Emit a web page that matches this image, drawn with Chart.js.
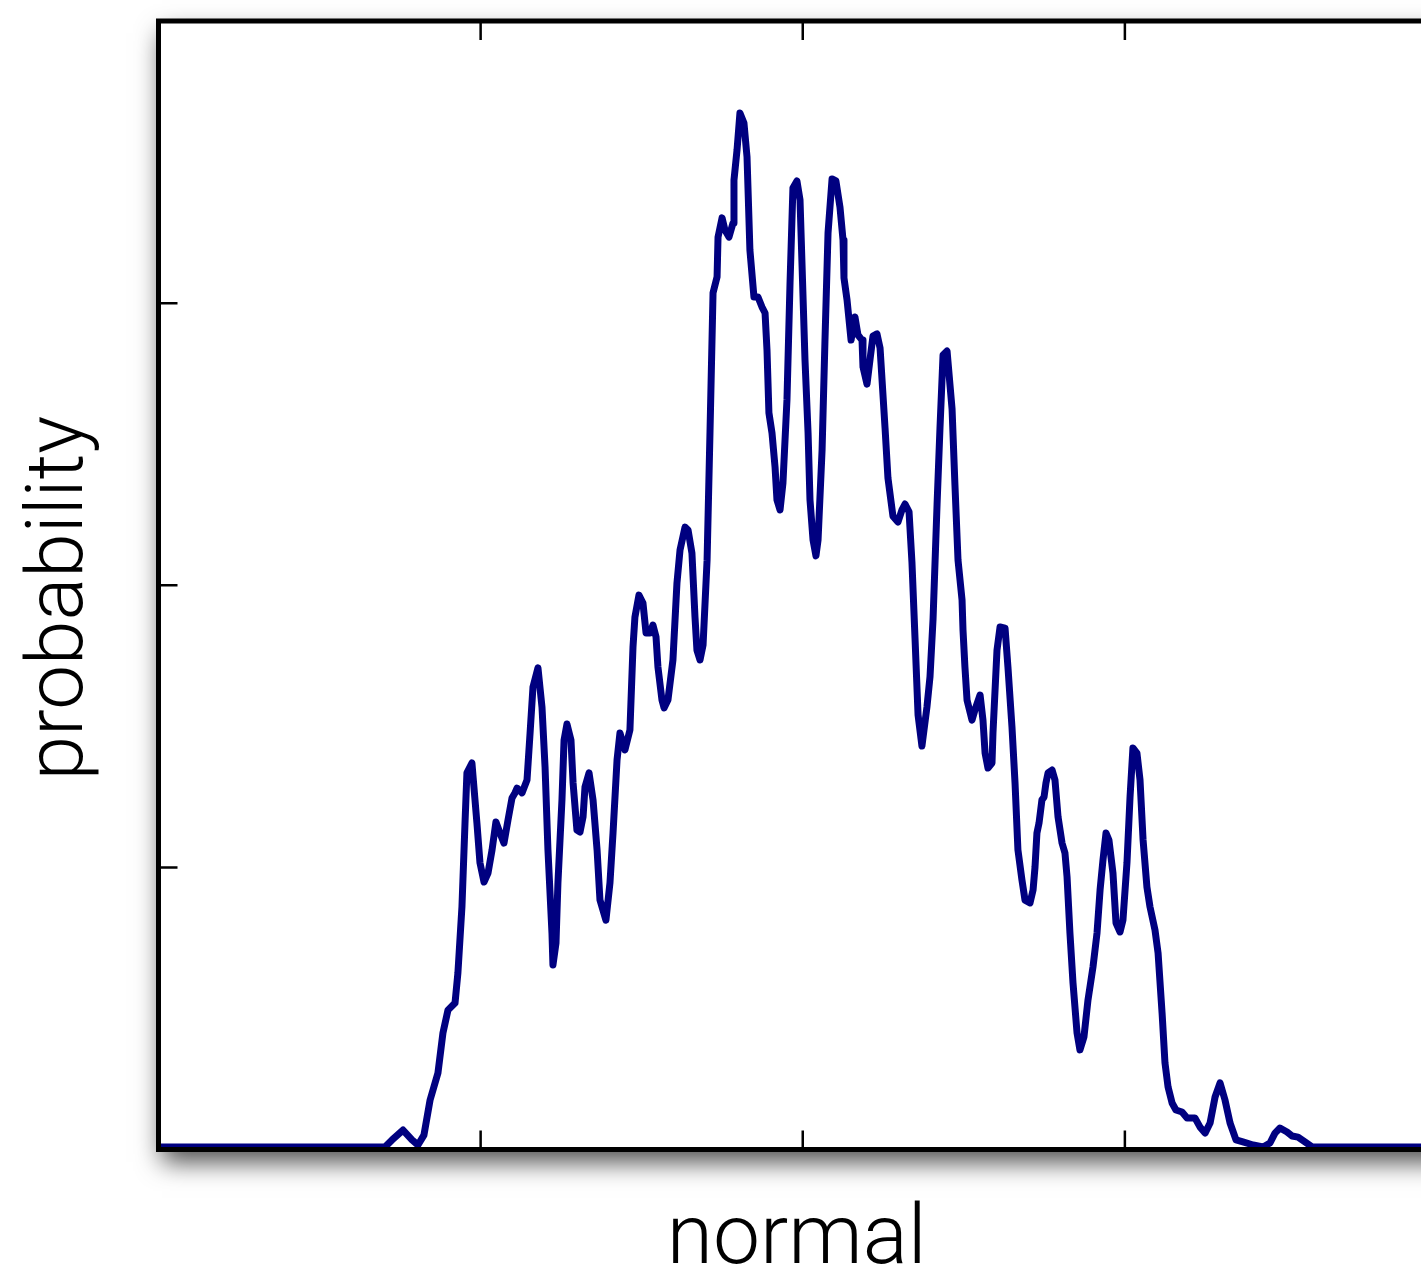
<!DOCTYPE html>
<html>
<head>
<meta charset="utf-8">
<script src="https://cdn.jsdelivr.net/npm/chart.js@4.4.1/dist/chart.umd.min.js"></script>
<style>
  html, body { margin: 0; padding: 0; background: #fff; overflow: hidden; }
  #wrap { position: relative; width: 1460px; height: 1271px; }
</style>
</head>
<body>
<div id="wrap"><canvas id="c" width="1460" height="1271"></canvas></div>
<script>
// valeurs (densité estimée)
const xs = [-4.0, -2.594, -2.550, -2.482, -2.426, -2.389, -2.352, -2.314, -2.265, -2.234,
  -2.203, -2.159, -2.141, -2.116, -2.097, -2.085, -2.054, -2.023, -2.004, -1.979,
  -1.954, -1.929, -1.905, -1.880, -1.855, -1.830, -1.805, -1.787, -1.774, -1.743,
  -1.712, -1.693, -1.675, -1.644, -1.619, -1.600, -1.582, -1.557, -1.551, -1.532,
  -1.520, -1.495, -1.482, -1.464, -1.439, -1.426, -1.402, -1.383, -1.364, -1.352,
  -1.327, -1.302, -1.277, -1.259, -1.222, -1.197, -1.178, -1.153, -1.135, -1.104,
  -1.073, -1.054, -1.042, -1.017, -0.992, -0.973, -0.948, -0.930, -0.911, -0.899,
  -0.874, -0.861, -0.837, -0.806, -0.781, -0.762, -0.731, -0.712, -0.688, -0.669,
  -0.657, -0.638, -0.619, -0.594, -0.576, -0.557, -0.532, -0.526, -0.501, -0.483,
  -0.458, -0.433, -0.427, -0.408, -0.390, -0.365, -0.346, -0.328, -0.303, -0.278,
  -0.253, -0.234, -0.222, -0.210, -0.191, -0.172, -0.160, -0.141, -0.123, -0.098,
  -0.079, -0.061, -0.036, -0.017, 0.014, 0.033, 0.045, 0.064, 0.082, 0.095,
  0.120, 0.138, 0.157, 0.182, 0.206, 0.231, 0.250, 0.256, 0.275, 0.300,
  0.324, 0.343, 0.368, 0.374, 0.399, 0.418, 0.436, 0.461, 0.480, 0.511,
  0.529, 0.560, 0.591, 0.616, 0.635, 0.660, 0.678, 0.697, 0.716, 0.740,
  0.771, 0.790, 0.809, 0.834, 0.852, 0.871, 0.896, 0.927, 0.945, 0.964,
  0.989, 0.995, 1.007, 1.020, 1.051, 1.069, 1.101, 1.119, 1.132, 1.150,
  1.175, 1.181, 1.206, 1.225, 1.256, 1.274, 1.299, 1.318, 1.336, 1.361,
  1.380, 1.411, 1.430, 1.442, 1.454, 1.467, 1.485, 1.498, 1.510, 1.523,
  1.548, 1.566, 1.585, 1.610, 1.628, 1.641, 1.659, 1.678, 1.703, 1.721,
  1.746, 1.771, 1.802, 1.827, 1.846, 1.864, 1.883, 1.901, 1.926, 1.945,
  1.970, 1.988, 2.013, 2.032, 2.050, 2.075, 2.094, 2.113, 2.137, 2.156,
  2.187, 2.206, 2.231, 2.249, 2.268, 2.293, 2.317, 2.355, 2.386, 2.435,
  2.466, 2.498, 2.529, 2.560, 2.591, 2.622, 2.653, 2.690, 2.733, 2.796,
  2.858, 2.901, 2.932, 2.963, 3.007, 3.038, 3.075, 3.118, 3.162, 4.0];

const ps = [0.0009, 0.0009, 0.0034, 0.0069, 0.0034, 0.0016, 0.0051, 0.0175, 0.0271, 0.0413,
  0.0494, 0.0519, 0.0626, 0.0860, 0.1157, 0.1335, 0.1370, 0.1157, 0.1016, 0.0948,
  0.0980, 0.1062, 0.1161, 0.1122, 0.1086, 0.1168, 0.1246, 0.1264, 0.1281, 0.1264,
  0.1310, 0.1476, 0.1639, 0.1707, 0.1568, 0.1356, 0.1062, 0.0767, 0.0654, 0.0732,
  0.0945, 0.1239, 0.1451, 0.1508, 0.1451, 0.1299, 0.1132, 0.1125, 0.1179, 0.1285,
  0.1335, 0.1239, 0.1062, 0.0884, 0.0813, 0.0945, 0.1122, 0.1381, 0.1476, 0.1416,
  0.1487, 0.1781, 0.1887, 0.1965, 0.1937, 0.1831, 0.1831, 0.1859, 0.1817, 0.1710,
  0.1593, 0.1565, 0.1593, 0.1735, 0.2008, 0.2125, 0.2206, 0.2196, 0.2114, 0.1887,
  0.1770, 0.1735, 0.1788, 0.2089, 0.2540, 0.3036, 0.3093, 0.3234, 0.3302, 0.3259,
  0.3234, 0.3284, 0.3436, 0.3543, 0.3674, 0.3638, 0.3518, 0.3188, 0.3022, 0.3022,
  0.2986, 0.2965, 0.2834, 0.2611, 0.2540, 0.2419, 0.2302, 0.2267, 0.2362, 0.2657,
  0.3071, 0.3408, 0.3433, 0.3366, 0.2798, 0.2540, 0.2302, 0.2160, 0.2104, 0.2160,
  0.2479, 0.2869, 0.3249, 0.3440, 0.3433, 0.3341, 0.3224, 0.3089, 0.3011, 0.2869,
  0.2951, 0.2887, 0.2869, 0.2774, 0.2713, 0.2802, 0.2883, 0.2891, 0.2841, 0.2557,
  0.2380, 0.2245, 0.2224, 0.2267, 0.2288, 0.2260, 0.2082, 0.1813, 0.1540, 0.1430,
  0.1568, 0.1675, 0.1880, 0.2288, 0.2557, 0.2816, 0.2830, 0.2625, 0.2355, 0.2089,
  0.1948, 0.1841, 0.1710, 0.1593, 0.1522, 0.1558, 0.1611, 0.1522, 0.1405, 0.1352,
  0.1370, 0.1476, 0.1770, 0.1852, 0.1848, 0.1710, 0.1498, 0.1299, 0.1062, 0.0955,
  0.0884, 0.0874, 0.0920, 0.1001, 0.1122, 0.1157, 0.1239, 0.1249, 0.1299, 0.1335,
  0.1345, 0.1310, 0.1179, 0.1086, 0.1051, 0.0966, 0.0767, 0.0590, 0.0413, 0.0353,
  0.0399, 0.0530, 0.0647, 0.0767, 0.0920, 0.1026, 0.1122, 0.1097, 0.0980, 0.0803,
  0.0771, 0.0813, 0.1016, 0.1249, 0.1423, 0.1405, 0.1310, 0.1097, 0.0930, 0.0860,
  0.0778, 0.0697, 0.0484, 0.0307, 0.0222, 0.0165, 0.0140, 0.0133, 0.0112, 0.0112,
  0.0080, 0.0058, 0.0094, 0.0186, 0.0236, 0.0175, 0.0094, 0.0034, 0.0027, 0.0016,
  0.0009, 0.0023, 0.0058, 0.0076, 0.0062, 0.0048, 0.0044, 0.0027, 0.0009, 0.0009];

const xTicks = [-2, 0, 2];
const yTicks = [0.1, 0.2, 0.3];
const xLabel = "normal";
const yLabel = "probability";

// cadre avec ombre, graduations vers l'intérieur, titres des axes
const framePlugin = {
  id: "frame",
  beforeDraw(chart) {
    const { ctx, chartArea: a } = chart;
    ctx.save();
    ctx.shadowColor = "rgba(0,0,0,0.7)";
    ctx.shadowBlur = 24;
    ctx.shadowOffsetX = 3;
    ctx.shadowOffsetY = 12;
    ctx.fillStyle = "#fff";
    ctx.fillRect(a.left, a.top, a.right - a.left, a.bottom - a.top);
    ctx.restore();
  },
  afterDatasetsDraw(chart) {
    const { ctx, chartArea: a, scales } = chart;
    ctx.save();
    ctx.strokeStyle = "#000";
    ctx.lineWidth = 2.5;
    ctx.beginPath();
    xTicks.forEach(v => {
      const px = scales.x.getPixelForValue(v);
      ctx.moveTo(px, a.bottom); ctx.lineTo(px, a.bottom - 19);
      ctx.moveTo(px, a.top); ctx.lineTo(px, a.top + 19);
    });
    yTicks.forEach(v => {
      const py = scales.y.getPixelForValue(v);
      ctx.moveTo(a.left, py); ctx.lineTo(a.left + 19, py);
      ctx.moveTo(a.right, py); ctx.lineTo(a.right - 19, py);
    });
    ctx.stroke();
    ctx.lineWidth = 5;
    ctx.strokeRect(a.left, a.top, a.right - a.left, a.bottom - a.top);
    ctx.restore();
  },
  afterDraw(chart) {
    const { ctx, chartArea: a } = chart;
    ctx.save();
    ctx.fillStyle = "#000";
    ctx.textAlign = "center";
    ctx.textBaseline = "alphabetic";
    ctx.font = "300 84px Roboto, 'Liberation Sans', sans-serif";
    ctx.fillText(xLabel, (a.left + a.right) / 2 - 6, 1263);
    ctx.font = "300 80px Roboto, 'Liberation Sans', sans-serif";
    ctx.translate(82, 598);
    ctx.rotate(-Math.PI / 2);
    ctx.fillText(yLabel, 0, 0);
    ctx.restore();
  }
};

const ctx = document.getElementById("c").getContext("2d");
new Chart(ctx, {
  type: "line",
  data: {
    datasets: [{
      data: xs.map((x, i) => ({ x: x, y: ps[i] })),
      borderColor: "#000080",
      borderWidth: 7,
      pointRadius: 0,
      tension: 0,
      fill: false,
      borderJoinStyle: "round",
      borderCapStyle: "round"
    }]
  },
  options: {
    responsive: false,
    animation: false,
    devicePixelRatio: 1,
    layout: { padding: { left: 158.5, top: 21, right: 13, bottom: 121.5 } },
    scales: {
      x: { type: "linear", min: -4, max: 4, display: false },
      y: { min: 0, max: 0.4, display: false }
    },
    plugins: { legend: { display: false }, tooltip: { enabled: false } }
  },
  plugins: [framePlugin]
});
</script>
</body>
</html>
